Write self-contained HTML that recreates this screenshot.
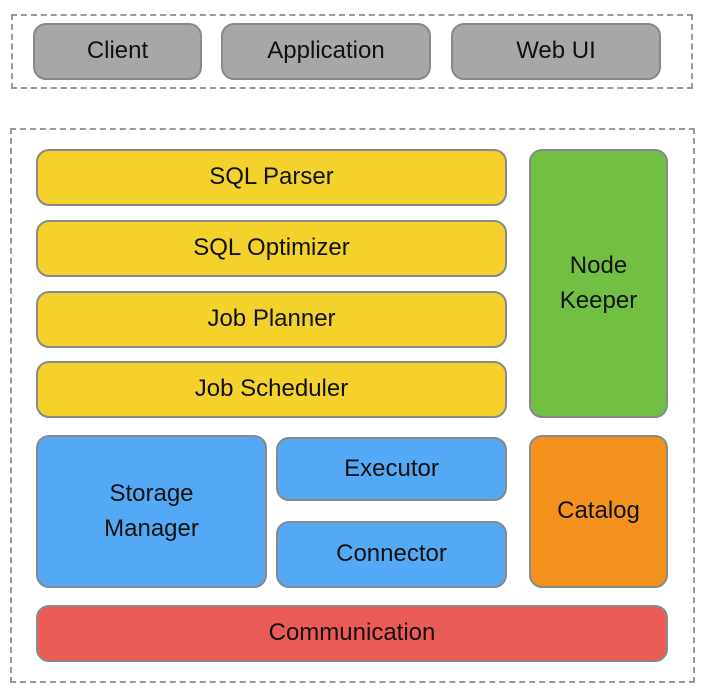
<!DOCTYPE html><html><head><style>
body{margin:0;width:706px;height:696px;background:#fff;position:relative;font-family:"Liberation Sans",sans-serif;overflow:hidden}
.d{position:absolute;border:2px dashed #999;box-sizing:border-box}
.b{position:absolute;box-sizing:border-box;border:2px solid #87898b;border-radius:13px;display:flex;align-items:center;justify-content:center;text-align:center;font-size:24px;color:#111;line-height:1.45}
.g{background:#a6a8a7}.y{background:#f4d12b}.gr{background:#72c043}.bl{background:#54a9f5}.o{background:#f3921f}.r{background:#eb5b55}
</style></head><body>
<div class="d" style="left:11px;top:14px;width:682px;height:75px"></div>
<div class="b g" style="left:33px;top:23px;width:169px;height:57px">Client</div>
<div class="b g" style="left:221px;top:23px;width:210px;height:57px">Application</div>
<div class="b g" style="left:451px;top:23px;width:210px;height:57px">Web UI</div>
<div class="d" style="left:10px;top:128px;width:685px;height:555px"></div>
<div class="b y" style="left:36px;top:149px;width:471px;height:57px">SQL Parser</div>
<div class="b y" style="left:36px;top:220px;width:471px;height:57px">SQL Optimizer</div>
<div class="b y" style="left:36px;top:291px;width:471px;height:57px">Job Planner</div>
<div class="b y" style="left:36px;top:361px;width:471px;height:57px">Job Scheduler</div>
<div class="b gr" style="left:529px;top:149px;width:139px;height:269px">Node<br>Keeper</div>
<div class="b bl" style="left:36px;top:435px;width:231px;height:153px">Storage<br>Manager</div>
<div class="b bl" style="left:276px;top:437px;width:231px;height:64px">Executor</div>
<div class="b bl" style="left:276px;top:521px;width:231px;height:67px">Connector</div>
<div class="b o" style="left:529px;top:435px;width:139px;height:153px">Catalog</div>
<div class="b r" style="left:36px;top:605px;width:632px;height:57px">Communication</div>
</body></html>
